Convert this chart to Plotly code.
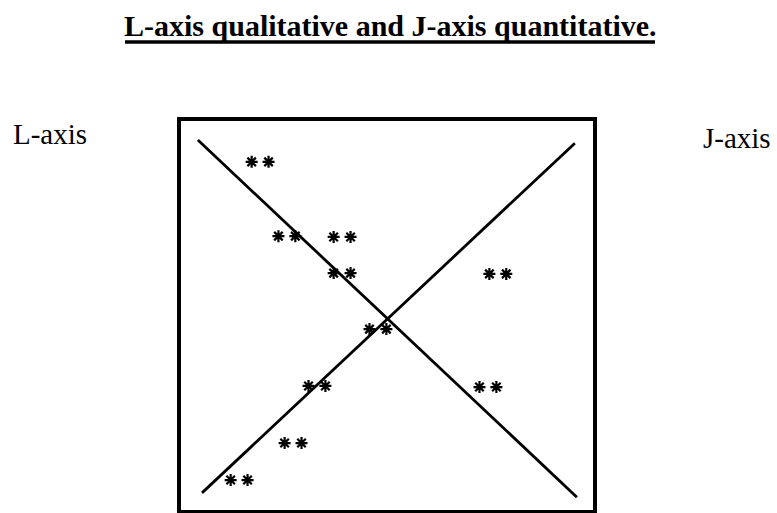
import plotly.graph_objects as go

# Observations: position on the qualitative L-axis and value on the quantitative J-axis
l_positions = [1.92, 2.57, 3.91, 3.91, 7.69, 4.78, 3.30, 2.72, 1.41, 7.45]
j_values = [8.95, 7.04, 7.02, 6.09, 6.07, 4.65, 3.19, 1.72, 0.77, 3.16]

# Two crossing reference lines (start and end points)
falling_x = [0.41, 9.61]
falling_y = [9.51, 0.33]
rising_x = [0.51, 9.56]
rising_y = [0.44, 9.43]

title_text = "L-axis qualitative and J-axis quantitative."
left_label = "L-axis"
right_label = "J-axis"

# each observation is drawn as a pair of asterisks side by side
pair_gap = 0.205
star_x = []
star_y = []
for x, y in zip(l_positions, j_values):
    star_x += [x - pair_gap, x + pair_gap]
    star_y += [y, y]

fig = go.Figure()
fig.add_trace(go.Scatter(x=falling_x, y=falling_y, mode="lines",
                         line=dict(color="black", width=2.8), hoverinfo="skip"))
fig.add_trace(go.Scatter(x=rising_x, y=rising_y, mode="lines",
                         line=dict(color="black", width=2.8), hoverinfo="skip"))
fig.add_trace(go.Scatter(x=star_x, y=star_y, mode="markers",
                         marker=dict(symbol="asterisk-open", size=10, color="black",
                                     line=dict(color="black", width=2.2))))

L, R, T, B = 181, 184, 121, 3
W, H = 777, 513
pw, ph = W - L - R, H - T - B


def px_x(p):
    return (p - L) / pw


def px_y(p):
    return (H - B - p) / ph


fig.update_layout(
    width=W, height=H,
    margin=dict(l=L, r=R, t=T, b=B),
    paper_bgcolor="white", plot_bgcolor="white",
    showlegend=False,
    xaxis=dict(range=[0, 10], showgrid=False, zeroline=False, showticklabels=False,
               ticks="", showline=True, mirror=True, linecolor="black", linewidth=3.5),
    yaxis=dict(range=[0, 10], showgrid=False, zeroline=False, showticklabels=False,
               ticks="", showline=True, mirror=True, linecolor="black", linewidth=3.5),
    annotations=[
        dict(text="<b>" + title_text + "</b>", xref="paper", yref="paper",
             x=px_x(390), y=px_y(26), xanchor="center", yanchor="middle",
             showarrow=False,
             font=dict(family="Liberation Serif", size=30, color="black")),
        dict(text=left_label, xref="paper", yref="paper",
             x=px_x(11), y=px_y(134), xanchor="left", yanchor="middle",
             showarrow=False,
             font=dict(family="Liberation Serif", size=29, color="black")),
        dict(text=right_label, xref="paper", yref="paper",
             x=px_x(701), y=px_y(138), xanchor="left", yanchor="middle",
             showarrow=False,
             font=dict(family="Liberation Serif", size=29, color="black")),
    ],
    shapes=[
        dict(type="line", xref="paper", yref="paper",
             x0=px_x(125), x1=px_x(655), y0=px_y(42), y1=px_y(42),
             line=dict(color="black", width=3.5)),
    ],
)

fig.write_html("out.html")
